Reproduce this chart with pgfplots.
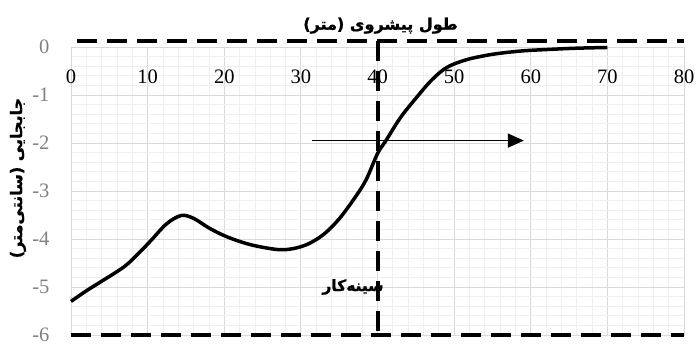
\documentclass[border=0pt]{standalone}
\usepackage{pgfplots}
\pgfplotsset{compat=1.18}
\usepackage{fontspec}
\usetikzlibrary{arrows.meta}
\setmainfont{Liberation Serif}
\newfontfamily\fa[Script=Arabic,BoldFeatures={FakeBold=1}]{DejaVu Sans}
\TeXXeTstate=1
\definecolor{majgrid}{HTML}{D9D9D9}
\definecolor{mingrid}{HTML}{EFEFEF}
\definecolor{ytick}{HTML}{808080}
\pgfplotstableread{
x y
0 -5.30
2 -5.08
4 -4.88
7 -4.57
9 -4.27
10.5 -4.02
12.5 -3.68
14.4 -3.51
16 -3.57
18 -3.77
20 -3.93
22 -4.05
24 -4.14
27 -4.22
29 -4.20
31 -4.10
33 -3.90
35 -3.58
37 -3.15
38.5 -2.77
40 -2.22
41.1 -1.95
43 -1.47
45 -1.07
47 -0.70
49 -0.43
51.5 -0.27
54 -0.18
56 -0.13
59 -0.08
62.4 -0.05
66 -0.025
70 -0.01
}\curve
\pgfplotstableread{
x y
31.4 -1.95
59.1 -1.95
}\arrowdata
\begin{document}
\begin{tikzpicture}
\begin{axis}[
  scale only axis,
  width=613pt, height=288pt,
  xmin=0, xmax=80, ymin=-6, ymax=0,
  xtick={0,10,...,80}, ytick={0,-1,...,-6},
  minor x tick num=4, minor y tick num=4,
  grid=both,
  major grid style={majgrid, line width=1pt},
  minor grid style={mingrid, line width=0.8pt},
  axis line style={majgrid, line width=1pt},
  major tick length=0pt, minor tick length=0pt,
  /pgf/number format/assume math mode=true,
  xticklabel style={font=\fontsize{20.5}{22}\selectfont, text=black, anchor=center, yshift=-30pt},
  xticklabel pos=upper,
  yticklabel style={font=\fontsize{20.5}{22}\selectfont, text=ytick, anchor=east, xshift=-18pt},
  clip=false,
  axis on top=false,
]
\addplot[black, line width=3.5pt, smooth, tension=0.55] table[x=x,y=y]{\curve};
\addplot[black, line width=1.5pt, -{Triangle[length=16pt,width=14pt]}] table[x=x,y=y]{\arrowdata};
\draw[black, line width=4pt, dash pattern=on 20pt off 10pt] (axis cs:0.8,0.12) -- (axis cs:80,0.12);
\draw[black, line width=4pt, dash pattern=on 20pt off 10pt] (axis cs:0,-6) -- (axis cs:80,-6);
\draw[black, line width=4pt, dash pattern=on 20pt off 10pt] (axis cs:40,0.12) -- (axis cs:40,-6);
\node[font=\fa\bfseries\fontsize{15.5}{17}\selectfont, anchor=center] at (axis cs:36.8,-5.0) {\beginR سینه‌کار\endR};
\node[font=\fa\bfseries\fontsize{16}{18}\selectfont, anchor=base] at (axis cs:40.4,0.36) {\beginR طول پیشروی (متر)\endR};
\node[font=\fa\bfseries\fontsize{16}{18}\selectfont, rotate=90, anchor=center] at (rel axis cs:-0.0865,0.545) {\beginR جابجایی (سانتی‌متر)\endR};
\coordinate (A) at (rel axis cs:0,0);
\coordinate (B) at (rel axis cs:1,1);
\end{axis}
\pgfresetboundingbox
\path[use as bounding box] ([shift={(-71pt,-8pt)}]A) rectangle ([shift={(15pt,47pt)}]B);
\end{tikzpicture}
\end{document}
